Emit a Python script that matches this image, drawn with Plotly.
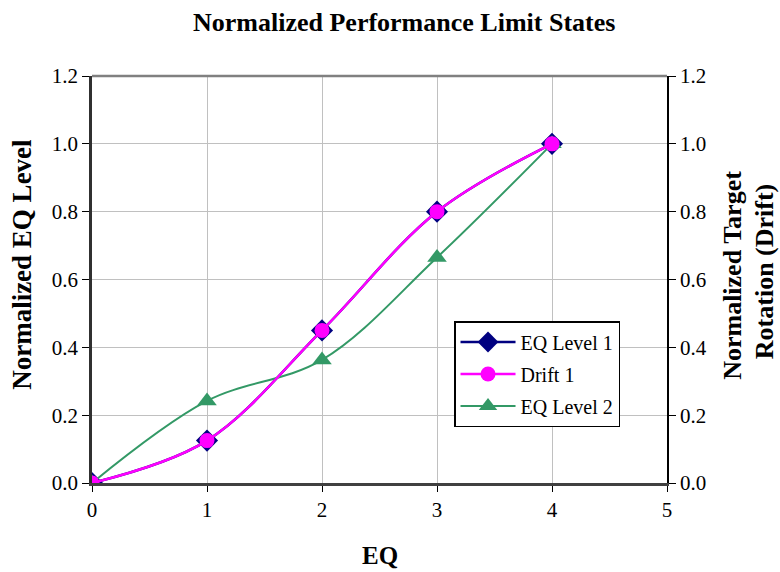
import plotly.graph_objects as go

# EQ step and normalized responses
eq = [0, 1, 2, 3, 4]
eq_level_1 = [0.0, 0.125, 0.45, 0.80, 1.0]
drift_1 = [0.0, 0.125, 0.45, 0.80, 1.0]
eq_level_2 = [0.0, 0.242, 0.363, 0.665, 1.0]

x_ticks = [0, 1, 2, 3, 4, 5]
y_ticks = [0.0, 0.2, 0.4, 0.6, 0.8, 1.0, 1.2]
y_labels = [f"{v:.1f}" for v in y_ticks]

FONT = "Liberation Serif"
TICK_FONT = dict(family=FONT, size=21, color="black")

fig = go.Figure()
fig.add_trace(go.Scatter(
    x=eq, y=eq_level_1, name="EQ Level 1", mode="lines+markers", legendgroup="a",
    line=dict(color="#000080", width=2.5, shape="spline", smoothing=1),
    marker=dict(symbol="diamond", size=17, color="#000080"),
))
fig.add_trace(go.Scatter(
    x=eq, y=drift_1, name="Drift 1", mode="lines+markers", yaxis="y2", legendgroup="b",
    line=dict(color="#FF00FF", width=2.5, shape="spline", smoothing=1),
    marker=dict(symbol="circle", size=15, color="#FF00FF"),
))
fig.add_trace(go.Scatter(
    x=eq, y=eq_level_2, name="EQ Level 2", mode="lines+markers", legendgroup="c",
    line=dict(color="#339966", width=2, shape="spline", smoothing=1),
    marker=dict(symbol="triangle-up", size=17, color="#339966"),
))

fig.update_layout(
    width=780, height=572,
    margin=dict(l=92, r=113, t=76, b=89),
    paper_bgcolor="white", plot_bgcolor="white",
    font=dict(family=FONT, size=20, color="black"),
    showlegend=True,
    legend=dict(
        x=0.6296, y=0.398, xanchor="left", yanchor="top",
        bgcolor="white", bordercolor="black", borderwidth=1.5,
        font=dict(family=FONT, size=20, color="black"),
        tracegroupgap=3, itemwidth=55,
    ),
    xaxis=dict(
        range=[0, 5], tickvals=x_ticks, ticktext=[str(v) for v in x_ticks],
        showgrid=True, gridcolor="#c0c0c0", gridwidth=1,
        showline=True, linecolor="#404040", linewidth=2.5,
        ticks="outside", ticklen=6, tickcolor="black",
        tickfont=TICK_FONT, zeroline=False,
    ),
    yaxis=dict(
        range=[0, 1.2], tickvals=y_ticks, ticktext=y_labels,
        showgrid=True, gridcolor="#c0c0c0", gridwidth=1,
        showline=True, linecolor="#303030", linewidth=2.5,
        ticks="outside", ticklen=7, tickcolor="black",
        tickfont=TICK_FONT, zeroline=False,
    ),
    yaxis2=dict(
        range=[0, 1.2], tickvals=y_ticks, ticktext=y_labels,
        overlaying="y", side="right", showgrid=False,
        showline=True, linecolor="black", linewidth=1.5,
        ticks="outside", ticklen=7, tickcolor="black",
        tickfont=TICK_FONT, zeroline=False,
    ),
    shapes=[dict(type="line", xref="paper", yref="paper", x0=0, x1=1, y0=1, y1=1,
                 line=dict(color="#808080", width=2.5))],
    annotations=[
        dict(text="<b>Normalized Performance Limit States</b>", xref="paper", yref="paper",
             x=0.5426, y=1.0, yshift=54, showarrow=False, xanchor="center", yanchor="middle",
             font=dict(family=FONT, size=26)),
        dict(text="<b>EQ</b>", xref="paper", yref="paper", x=0.5, y=0, yshift=-72,
             showarrow=False, xanchor="center", yanchor="middle",
             font=dict(family=FONT, size=25)),
        dict(text="<b>Normalized EQ Level</b>", xref="paper", yref="paper",
             x=0, xshift=-70, y=0.536, showarrow=False, textangle=-90,
             xanchor="center", yanchor="middle", font=dict(family=FONT, size=27)),
        dict(text="<b>Normalized Target</b>", xref="paper", yref="paper",
             x=1, xshift=66, y=0.509, showarrow=False, textangle=-90,
             xanchor="center", yanchor="middle", font=dict(family=FONT, size=26)),
        dict(text="<b>Rotation (Drift)</b>", xref="paper", yref="paper",
             x=1, xshift=97, y=0.518, showarrow=False, textangle=-90,
             xanchor="center", yanchor="middle", font=dict(family=FONT, size=26)),
    ],
)

fig.write_html("out.html")
